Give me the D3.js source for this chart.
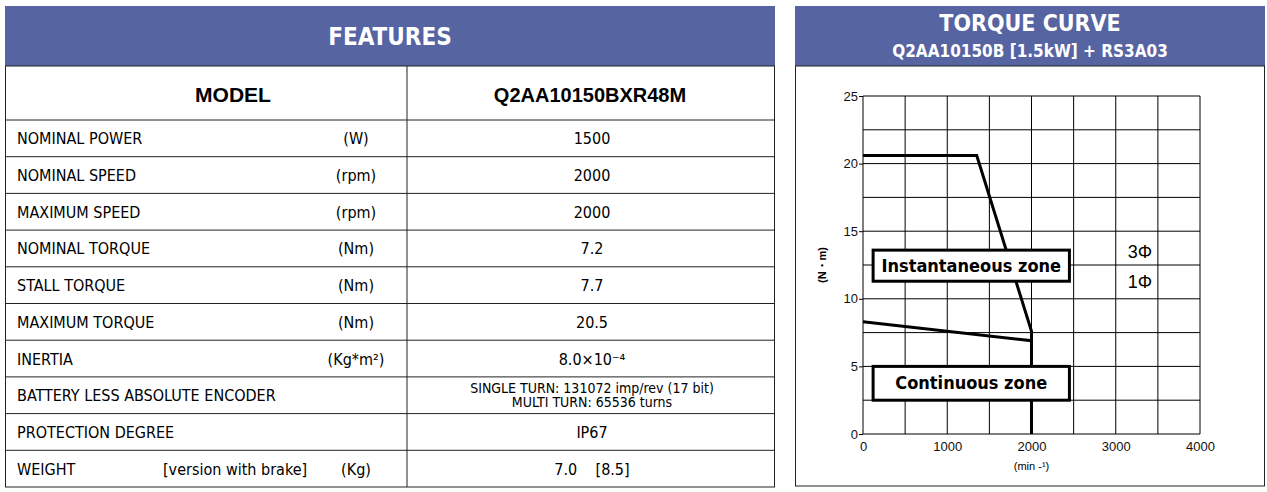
<!DOCTYPE html><html><head><meta charset="utf-8"><script src="https://cdn.jsdelivr.net/npm/d3@7"></script>
<style>body{margin:0;background:#fff}svg{display:block}</style></head><body><svg id="c" width="1267" height="492"></svg>
<script>
const rowLabels=["NOMINAL POWER","NOMINAL SPEED","MAXIMUM SPEED","NOMINAL TORQUE","STALL TORQUE","MAXIMUM TORQUE","INERTIA","BATTERY LESS ABSOLUTE ENCODER","PROTECTION DEGREE","WEIGHT"];
const rowUnits=["(W)","(rpm)","(rpm)","(Nm)","(Nm)","(Nm)","(Kg*m²)","","","(Kg)"];
const rowValues=["1500","2000","2000","7.2","7.7","20.5","8.0×10⁻⁴","SINGLE TURN: 131072 imp/rev (17 bit)|MULTI TURN: 65536 turns","IP67","7.0    [8.5]"];
const instSpeed=[0,1350,2000,2000], instTorque=[20.6,20.6,7.6,0];
const contSpeed=[0,2000,2000], contTorque=[8.3,6.9,0];
const xTicks=[0,1000,2000,3000,4000], yTicks=[0,5,10,15,20,25];
const svg=d3.select("#c"), blue="#5664a2", F="'DejaVu Sans Condensed','Liberation Sans Narrow',sans-serif";
svg.append("rect").attr("x",5).attr("y",6).attr("width",770).attr("height",60).attr("fill",blue);
svg.append("text").attr("x",390).attr("y",45).attr("text-anchor","middle").attr("fill","#fff").attr("font-family",F).attr("font-size",24).attr("font-weight","bold").text("FEATURES");
const tb=svg.append("g").attr("stroke","#222").attr("fill","none");
tb.append("rect").attr("x",5.5).attr("y",66).attr("width",769).attr("height",421);
tb.append("line").attr("x1",407).attr("x2",407).attr("y1",66).attr("y2",487);
const ry=d3.scaleBand().domain(d3.range(rowLabels.length)).range([120,487]);
tb.append("line").attr("x1",5).attr("x2",775).attr("y1",120).attr("y2",120);
svg.append("text").attr("x",233).attr("y",102).attr("text-anchor","middle").attr("font-family","Liberation Sans,Arial").attr("font-weight","bold").attr("font-size",21).text("MODEL");
svg.append("text").attr("x",590).attr("y",102).attr("text-anchor","middle").attr("font-family","'Liberation Sans Narrow',Arial").attr("font-weight","bold").attr("font-size",20).text("Q2AA10150BXR48M");
rowLabels.forEach((l,i)=>{const y=ry(i),h=ry.bandwidth(),m=y+h/2+6;
 if(i>0)tb.append("line").attr("x1",5).attr("x2",775).attr("y1",y).attr("y2",y);
 svg.append("text").attr("x",17).attr("y",m).attr("font-family",F).attr("font-size",16).text(l);
 if(i==9)svg.append("text").attr("x",163).attr("y",m).attr("font-family",F).attr("font-size",16).text("[version with brake]");
 svg.append("text").attr("x",356).attr("y",m).attr("text-anchor","middle").attr("font-family",F).attr("font-size",16).text(rowUnits[i]);
 const v=rowValues[i].split("|");
 if(v.length==2){v.forEach((s,k)=>svg.append("text").attr("x",592).attr("y",y+16+k*14).attr("text-anchor","middle").attr("font-family",F).attr("font-size",14).text(s));}
 else svg.append("text").attr("x",592).attr("y",m).attr("text-anchor","middle").attr("font-family",F).attr("font-size",16).style("white-space","pre").text(v[0]);
});
svg.append("rect").attr("x",795).attr("y",6).attr("width",470).attr("height",60).attr("fill",blue);
svg.append("text").attr("x",1030).attr("y",31).attr("text-anchor","middle").attr("fill","#fff").attr("font-family",F).attr("font-size",23).attr("font-weight","bold").text("TORQUE CURVE");
svg.append("text").attr("x",1030).attr("y",57).attr("text-anchor","middle").attr("fill","#fff").attr("font-family",F).attr("font-size",17).attr("font-weight","bold").text("Q2AA10150B [1.5kW] + RS3A03");
svg.append("rect").attr("x",795.5).attr("y",66).attr("width",469).attr("height",420).attr("fill","none").attr("stroke","#222");
const x=d3.scaleLinear().domain([0,4000]).range([863,1200]), y=d3.scaleLinear().domain([0,25]).range([434,96]);
const g=svg.append("g");
g.selectAll(".v").data(d3.range(0,4001,500)).join("line").attr("x1",x).attr("x2",x).attr("y1",y(0)).attr("y2",y(25)).attr("stroke","#000").attr("stroke-width",1);
g.selectAll(".h").data(d3.range(0,25.1,2.5)).join("line").attr("y1",y).attr("y2",y).attr("x1",x(0)).attr("x2",x(4000)).attr("stroke","#000").attr("stroke-width",1);
const ax=svg.append("g").attr("transform",`translate(0,${y(0)})`).call(d3.axisBottom(x).tickValues(xTicks).tickFormat(d3.format("d")).tickSize(0).tickPadding(8));
ax.select(".domain").remove();ax.selectAll("text").attr("font-size",13).attr("font-family","Liberation Sans,Arial").attr("fill","#111");
const ay=svg.append("g").attr("transform",`translate(${x(0)},0)`).call(d3.axisLeft(y).tickValues(yTicks).tickSize(4).tickPadding(1));
ay.select(".domain").remove();ay.selectAll("text").attr("font-size",13).attr("font-family","Liberation Sans,Arial").attr("fill","#111");
svg.append("text").attr("x",x(2000)).attr("y",470).attr("text-anchor","middle").attr("font-size",11).attr("font-family","Liberation Sans,Arial").text("(min -¹)");
svg.append("text").attr("transform",`translate(826,265) rotate(-90)`).attr("text-anchor","middle").attr("font-size",11).attr("font-weight","bold").attr("font-family","Liberation Sans,Arial").text("(N・m)");
const line=d3.line().x(d=>x(d[0])).y(d=>y(d[1]));
svg.append("path").attr("d",line(instSpeed.map((s,i)=>[s,instTorque[i]]))).attr("fill","none").attr("stroke","#000").attr("stroke-width",3);
svg.append("path").attr("d",line(contSpeed.map((s,i)=>[s,contTorque[i]]))).attr("fill","none").attr("stroke","#000").attr("stroke-width",3);
[["Instantaneous zone",13.6,11.3],["Continuous zone",5.0,2.5]].forEach(([t,a,b])=>{
 svg.append("rect").attr("x",x(120)).attr("y",y(a)).attr("width",x(2450)-x(120)).attr("height",y(b)-y(a)).attr("fill","#fff").attr("stroke","#000").attr("stroke-width",3);
 svg.append("text").attr("x",(x(120)+x(2450))/2).attr("y",(y(a)+y(b))/2+6).attr("text-anchor","middle").attr("font-family",F).attr("font-size",18).attr("font-weight","bold").text(t);
});
svg.append("text").attr("x",1140).attr("y",258).attr("text-anchor","middle").attr("font-size",18).attr("font-family","Liberation Sans,Arial").text("3Φ");
svg.append("text").attr("x",1140).attr("y",288).attr("text-anchor","middle").attr("font-size",18).attr("font-family","Liberation Sans,Arial").text("1Φ");
</script></body></html>
